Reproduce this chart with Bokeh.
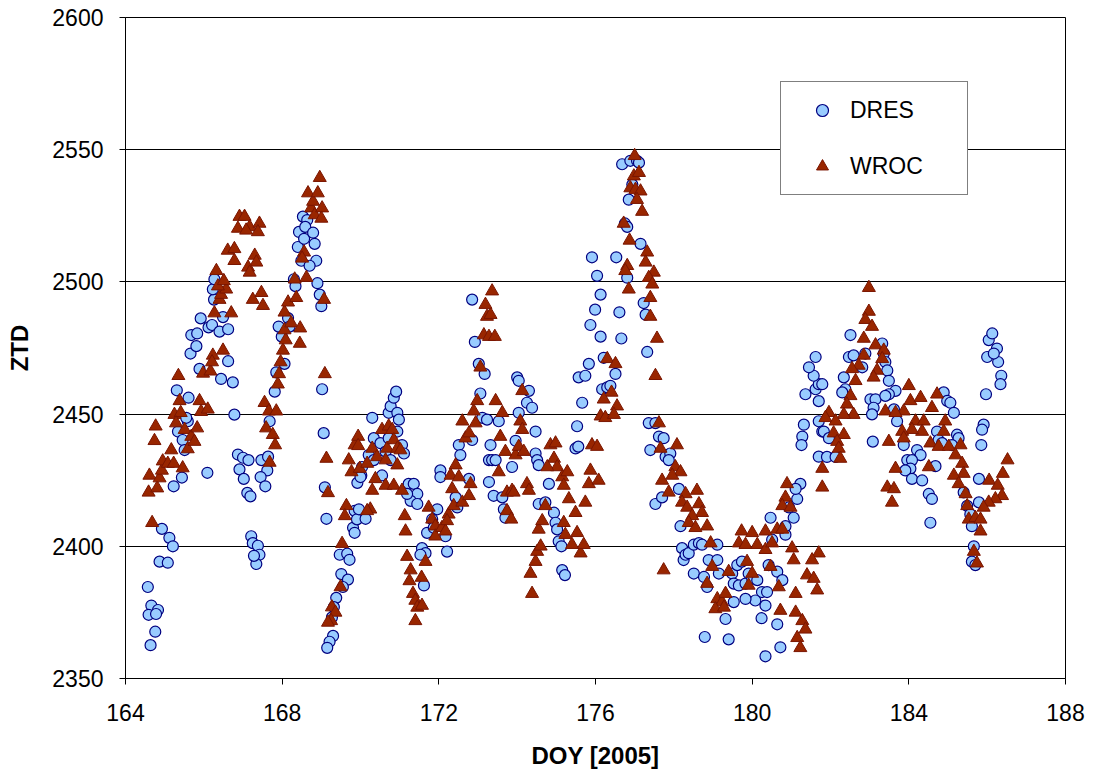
from bokeh.plotting import figure
from bokeh.models import Range1d, Legend, LegendItem
from bokeh.embed import file_html
from bokeh.resources import INLINE

# ---- data ----
dres_doy = [
    164.64, 164.76, 164.57, 164.66, 164.83, 164.59, 164.78, 164.87, 165.08, 164.93, 165.12, 165.21,
    165.23, 165.44, 165.34, 165.46, 165.51, 165.59, 165.55, 165.31, 165.61, 165.66, 165.81, 165.68,
    165.83, 165.92, 165.89, 166.12, 166.21, 166.40, 166.62, 166.49, 166.26, 166.23, 166.27, 166.44,
    166.74, 166.62, 166.78, 166.09, 166.87, 167.00, 167.14, 166.91, 167.02, 167.11, 167.19, 167.21,
    167.25, 167.38, 167.42, 167.34, 167.28, 167.47, 167.64, 167.62, 167.45, 167.57, 167.68, 167.81,
    167.85, 167.91, 167.99, 168.06, 168.15, 168.19, 168.30, 168.34, 168.40, 168.49, 168.43, 168.56,
    168.53, 168.64, 168.59, 168.79, 168.83, 168.87, 168.70, 168.90, 168.96, 169.00, 169.02, 169.06,
    169.09, 169.13, 169.47, 169.66, 169.72, 169.51, 169.68, 169.55, 169.38, 169.32, 169.27, 169.30,
    169.21, 169.15, 169.85, 169.81, 169.85, 169.92, 170.02,
    169.91, 170.13, 169.96, 170.00, 170.30, 170.34, 170.21, 170.04, 170.51, 170.34, 170.55, 170.72,
    170.77, 170.85, 170.91, 170.94, 170.98, 170.94, 171.06, 171.11, 170.72, 170.64, 170.77, 171.23,
    171.36, 171.45, 171.28, 171.45, 171.19, 172.04, 172.04, 171.96, 171.83, 171.70, 171.87, 172.17,
    172.21, 171.57, 171.66, 171.53, 171.62, 172.51, 172.55, 172.47, 172.43, 172.77, 172.85, 172.85,
    172.92, 173.02, 173.17, 173.06, 173.11, 173.23, 173.53, 173.32, 173.28, 173.36, 173.45, 173.28,
    173.40, 173.62, 173.66, 173.70, 173.87, 173.96, 174.00, 174.04, 174.30, 174.25, 174.38, 174.04,
    174.47, 174.47, 174.51, 174.55, 174.81, 174.55, 174.72, 174.94, 174.98, 175.02, 175.06, 175.13,
    175.15, 175.22, 175.53, 175.49, 175.56, 175.66, 175.57, 175.74, 175.83, 175.87, 175.91, 176.04,
    175.99, 176.13,
    176.68, 176.89, 177.06, 177.11, 176.94, 176.85, 176.75, 176.81, 177.15, 176.53, 176.81, 176.61,
    176.13, 176.66, 177.23, 177.28, 177.32, 176.21, 176.51, 176.17, 176.30, 176.38, 177.36, 177.53,
    177.62, 177.74, 177.40, 177.79, 177.91, 177.87, 178.13, 177.53, 177.70, 178.17, 178.21, 178.25,
    178.30, 178.38, 178.51, 178.64, 178.72, 179.11, 178.89, 179.11, 178.51, 178.77, 178.85, 179.15,
    179.32, 179.40, 178.79, 179.49, 179.62, 179.74, 179.53, 179.66, 179.83, 179.91, 180.00, 180.13,
    180.25, 180.38, 180.08, 179.83, 179.53, 180.34, 180.24, 180.34, 180.64, 180.72, 180.42, 180.51,
    180.64, 180.77, 180.47, 180.85, 180.85, 180.94, 181.06, 181.15, 181.23, 181.11, 181.70, 181.79,
    181.32, 181.28, 181.26, 181.70, 181.36, 181.70, 181.62, 181.70, 181.57, 181.45, 181.62, 181.79,
    181.83, 181.96, 181.91, 182.13, 182.51, 182.47, 182.59, 182.89, 182.81, 183.32, 183.36, 183.40,
    183.45, 183.49, 182.34, 182.38, 182.30, 183.02, 183.15, 183.10, 183.06, 183.66, 183.49, 183.40,
    183.62, 183.70, 183.08, 183.87, 183.96, 184.21, 184.30, 184.08, 184.04, 183.91, 184.08, 184.34,
    184.68, 184.51, 184.59, 184.55, 184.89, 184.98, 185.06, 185.15, 184.72, 184.76, 185.23, 185.27,
    185.10, 184.85, 185.40, 185.49, 185.57, 185.61, 185.79, 185.79, 185.66, 185.61, 185.70, 185.91,
    185.87, 185.85, 185.97, 186.00, 186.04, 186.13, 186.25, 186.28, 186.36, 186.34, 186.17,
]
dres_ztd = [
    2362.6, 2367.7, 2384.6, 2377.6, 2375.9, 2374.1, 2374.4, 2394.2, 2393.8, 2406.6, 2403.2, 2400.0,
    2422.7, 2426.0, 2443.4, 2440.2, 2436.4, 2447.3, 2448.6, 2459.0, 2456.2, 2472.9, 2475.7, 2479.9,
    2480.5, 2486.2, 2467.1, 2482.8, 2483.7, 2481.2, 2482.1, 2486.7, 2493.3, 2497.2, 2501.0, 2463.3,
    2462.0, 2470.0, 2449.8, 2427.8, 2434.7, 2433.5, 2432.6, 2429.1, 2425.5, 2420.2, 2418.9, 2403.8,
    2401.2, 2400.2, 2396.8, 2393.3, 2396.4, 2432.6, 2433.9, 2428.7, 2426.2, 2422.7, 2447.3, 2458.5,
    2465.8, 2483.1, 2479.3, 2469.0, 2486.3, 2483.1, 2501.0, 2498.4, 2513.2, 2508.0, 2518.9, 2516.3,
    2524.7, 2523.4, 2520.8, 2518.6, 2514.4, 2508.0, 2506.1, 2499.5, 2495.2, 2490.8, 2459.4, 2442.8,
    2422.3, 2410.4, 2396.8, 2397.2, 2394.9, 2389.5, 2387.4, 2384.6, 2380.5, 2377.0, 2373.1, 2366.1,
    2363.9, 2361.6, 2413.4, 2407.0, 2405.1, 2424.0, 2426.8,
    2410.2, 2410.4, 2414.0, 2426.2, 2448.6, 2440.9, 2434.5, 2430.0, 2439.0, 2432.6, 2426.8, 2450.5,
    2453.0, 2456.2, 2458.5, 2450.5, 2447.9, 2443.4, 2438.3, 2435.1, 2440.9, 2435.8, 2432.6, 2423.6,
    2423.6, 2419.8, 2417.2, 2416.0, 2419.8, 2428.7, 2426.2, 2414.0, 2410.2, 2405.1, 2407.0, 2403.8,
    2398.0, 2399.3, 2397.4, 2396.8, 2385.2, 2438.3, 2434.5, 2414.7, 2418.5, 2425.5, 2440.2, 2493.3,
    2477.3, 2469.0, 2465.2, 2457.8, 2448.6, 2447.9, 2447.3, 2438.3, 2432.6, 2432.6, 2432.6, 2424.3,
    2419.1, 2418.5, 2414.0, 2410.8, 2430.0, 2439.9, 2463.9, 2462.6, 2458.8, 2454.3, 2452.4, 2450.5,
    2443.4, 2435.1, 2432.6, 2430.7, 2423.6, 2416.0, 2416.6, 2412.7, 2408.9, 2406.4, 2401.9, 2400.0,
    2391.0, 2389.1, 2445.4, 2437.0, 2437.7, 2454.3, 2463.9, 2464.5, 2469.0, 2483.7, 2509.3, 2502.3,
    2489.5, 2495.2,
    2544.5, 2545.8, 2545.8, 2545.1, 2536.8, 2531.1, 2522.1, 2520.8, 2514.4, 2509.3, 2501.6, 2488.5,
    2479.3, 2478.6, 2492.0, 2487.6, 2473.5, 2471.3, 2465.2, 2459.4, 2460.1, 2460.7, 2446.6, 2446.6,
    2441.5, 2440.9, 2436.4, 2433.9, 2435.1, 2432.6, 2421.7, 2416.0, 2418.5, 2407.6, 2399.3, 2394.8,
    2396.8, 2397.4, 2400.6, 2401.2, 2400.6, 2400.6, 2394.8, 2394.8, 2389.7, 2388.4, 2384.6, 2389.7,
    2372.5, 2364.8, 2365.7, 2389.7, 2392.9, 2394.2, 2385.9, 2385.2, 2385.9, 2389.7, 2387.8, 2387.2,
    2382.7, 2382.7, 2379.5, 2380.1, 2378.9, 2377.6, 2372.8, 2358.4, 2370.5, 2361.8, 2392.9, 2402.5,
    2390.4, 2387.2, 2410.8, 2404.4, 2407.6, 2414.7, 2410.8, 2417.9, 2423.6, 2421.7, 2433.9, 2443.4,
    2446.0, 2441.5, 2438.3, 2447.3, 2457.5, 2454.9, 2459.4, 2461.3, 2464.5, 2467.7, 2471.6, 2461.3,
    2443.4, 2440.9, 2433.8, 2433.8, 2479.9, 2471.6, 2472.2, 2472.9, 2467.7, 2476.7, 2472.9, 2469.7,
    2466.5, 2462.6, 2463.9, 2459.4, 2458.2, 2455.6, 2455.6, 2452.4, 2449.9, 2458.8, 2457.5, 2456.9,
    2451.8, 2447.3, 2439.6, 2438.3, 2432.6, 2436.4, 2434.5, 2432.6, 2429.4, 2428.7, 2425.5, 2424.9,
    2430.3, 2419.8, 2417.9, 2408.9, 2458.2, 2455.0, 2454.3, 2450.5, 2443.4, 2440.2, 2442.2, 2440.9,
    2438.3, 2439.0, 2420.4, 2415.3, 2412.1, 2407.6, 2416.6, 2425.5, 2400.0, 2394.2, 2392.9, 2446.0,
    2444.1, 2438.3, 2457.5, 2471.6, 2478.0, 2480.5, 2474.8, 2469.7, 2464.5, 2461.3, 2472.9,
]

wroc_doy = [
    164.68, 164.59, 164.81, 164.61, 164.87, 164.93, 164.95, 165.08, 165.17, 165.23, 165.46, 164.74,
    164.77, 165.25, 165.41, 165.38, 165.29, 165.51, 165.68, 165.59, 165.76, 165.83, 165.89, 165.93,
    166.10, 165.35, 165.98, 166.17, 166.23, 166.49, 166.21, 166.27, 166.70, 166.40, 166.44, 166.57,
    166.36, 166.32, 166.51, 166.61, 166.78, 166.78, 166.87, 166.91, 167.04, 167.17, 167.08, 167.42,
    167.38, 167.30, 167.34, 167.13, 167.17, 167.25, 167.47, 167.51, 167.55, 167.66, 167.85, 167.59,
    167.76, 167.82, 167.68, 167.89, 167.92, 167.96, 168.02, 168.09, 168.06, 168.23, 168.46, 168.45,
    168.06, 168.15, 168.36, 168.32, 168.62, 168.56, 168.51, 168.66, 168.74, 168.79, 168.83, 168.96,
    168.91, 169.02, 169.00, 169.07, 169.09, 169.13, 169.17, 169.64, 169.60, 169.53, 169.49, 169.27,
    169.36, 169.25, 169.17, 169.70, 169.77, 169.85, 169.94, 169.94, 169.98,
    170.17, 170.30, 170.38, 170.42, 170.55, 170.64, 170.68, 170.72, 170.81, 170.85, 170.94, 171.02,
    170.94, 170.25, 170.17, 170.30, 170.64, 170.85, 171.06, 171.13, 171.15, 171.19, 171.28, 171.25,
    171.34, 171.40, 171.45, 171.40, 171.56, 171.57, 171.66, 171.74, 171.83, 171.91, 171.91, 172.08,
    172.17, 172.25, 172.21, 172.38, 172.34, 172.43, 172.30, 172.51, 172.60, 172.77, 172.81, 172.68,
    172.60, 172.77, 172.89, 172.94, 172.98, 173.06, 173.15, 173.28, 173.43, 173.23, 173.32, 173.36,
    173.19, 173.45, 173.57, 173.62, 173.70, 173.53, 173.74, 173.87, 173.74, 173.85, 173.91, 173.96,
    174.04, 174.17, 174.08, 174.13, 174.13, 174.25, 174.30, 174.38, 174.34, 174.47, 174.51, 174.60,
    174.55, 174.64, 174.72, 174.85, 174.98, 174.94, 175.02, 174.77, 175.15, 175.19, 175.28, 175.32,
    175.19, 175.23, 175.40, 175.49, 175.53, 175.62, 175.70, 175.74, 175.83, 175.87, 175.91,
    177.00, 176.98, 177.11, 176.89, 177.02, 177.15, 177.06, 177.19, 176.72, 176.87, 177.32, 177.28,
    176.81, 176.76, 177.49, 177.36, 177.45, 176.85, 177.40, 177.40, 177.57, 177.53, 176.30, 176.51,
    176.41, 176.21, 176.55, 176.13, 176.25, 176.47, 176.04, 176.08, 177.62, 177.66, 178.08, 178.04,
    178.17, 177.96, 177.70, 177.87, 178.30, 178.59, 178.21, 178.64, 178.34, 178.72, 178.47, 178.38,
    178.85, 178.55, 177.74, 178.94, 178.98, 178.85, 179.40, 179.11, 179.23, 179.32, 179.06, 179.28,
    179.73, 180.00, 179.66, 179.83, 180.34, 180.13, 180.34, 180.51, 180.64, 180.77, 179.87, 180.00,
    179.91, 180.47, 180.68, 180.89, 180.85, 180.77, 180.98, 181.02, 181.06, 181.11, 180.72, 181.11,
    181.28, 181.36, 181.15, 181.23, 181.70, 181.53, 181.40, 181.57, 181.66, 181.79, 181.79,
    182.98, 182.98, 182.89, 183.06, 182.85, 183.15, 183.36, 183.32, 182.85, 182.72, 183.19, 182.55,
    183.10, 182.64, 182.51, 182.42, 182.59, 182.34, 181.96, 181.87, 182.13, 182.08, 182.34, 182.17,
    182.21, 182.25, 184.00, 184.04, 183.87, 184.30, 184.72, 184.59, 183.40, 183.66, 184.17, 184.38,
    184.34, 184.08, 183.83, 183.87, 183.49, 184.93, 184.89, 184.55, 184.76, 185.02, 185.32, 185.19,
    183.66, 183.45, 183.62, 183.57, 184.51, 185.36, 185.40, 185.15, 185.27, 185.45, 185.49, 185.53,
    185.70, 185.83, 185.83, 185.66, 185.74, 186.05, 186.27, 186.40, 186.52, 186.38, 186.21, 186.04,
    185.91,
]
wroc_ztd = [
    2408.9, 2420.4, 2422.0, 2426.8, 2425.8, 2428.7, 2432.2, 2431.3, 2436.4, 2431.3, 2429.6, 2439.9,
    2445.4, 2449.8, 2450.5, 2455.0, 2446.6, 2444.1, 2441.5, 2436.8, 2439.6, 2444.7, 2455.0, 2450.9,
    2451.8, 2464.5, 2465.4, 2466.2, 2472.2, 2474.1, 2469.7, 2488.2, 2488.2, 2493.3, 2495.2, 2497.2,
    2498.4, 2504.2, 2500.4, 2511.9, 2512.5, 2508.0, 2520.2, 2524.7, 2524.7, 2520.8, 2519.5, 2522.1,
    2518.9, 2510.0, 2507.4, 2505.5, 2503.6, 2493.3, 2495.9, 2491.0, 2454.3, 2451.1, 2451.1, 2444.7,
    2442.2, 2438.3, 2431.7, 2461.3, 2465.2, 2469.7, 2474.1, 2478.0, 2481.8, 2484.4, 2482.5, 2476.7,
    2488.5, 2492.3, 2494.0, 2501.0, 2501.6, 2511.2, 2508.9, 2533.6, 2527.9, 2530.4, 2525.3, 2539.4,
    2533.6, 2527.9, 2524.0, 2493.3, 2465.2, 2433.2, 2420.2, 2415.3, 2411.5, 2401.0, 2384.6, 2377.0,
    2375.0, 2371.8, 2371.2, 2432.6, 2428.1, 2438.3, 2441.5, 2438.0, 2429.4,
    2431.3, 2437.0, 2425.5, 2433.8, 2444.1, 2432.6, 2437.0, 2445.4, 2444.1, 2440.2, 2437.0, 2436.4,
    2430.7, 2414.0, 2413.4, 2421.1, 2423.0, 2423.0, 2421.1, 2411.5, 2405.7, 2396.1, 2391.0, 2386.9,
    2382.1, 2379.5, 2376.9, 2371.8, 2388.2, 2377.6, 2394.2, 2414.7, 2410.2, 2407.6, 2403.8, 2407.0,
    2405.7, 2412.1, 2409.6, 2415.3, 2421.7, 2430.7, 2426.8, 2426.2, 2416.6, 2419.1, 2423.6, 2440.9,
    2447.3, 2442.8, 2451.1, 2446.6, 2455.0, 2467.7, 2479.9, 2479.3, 2479.3, 2486.9, 2487.6, 2496.5,
    2491.4, 2455.0, 2441.5, 2450.5, 2435.8, 2428.1, 2420.4, 2421.1, 2413.4, 2410.2, 2420.4, 2434.5,
    2437.7, 2435.8, 2447.3, 2444.1, 2458.8, 2423.6, 2421.1, 2382.1, 2389.7, 2394.2, 2398.0, 2400.0,
    2406.4, 2409.6, 2415.3, 2438.3, 2439.0, 2433.2, 2430.0, 2430.0, 2426.2, 2423.0, 2428.1, 2417.9,
    2408.9, 2404.4, 2400.6, 2412.7, 2405.1, 2397.4, 2400.6, 2416.6, 2423.6, 2428.7, 2438.3,
    2547.7, 2540.0, 2541.3, 2535.5, 2534.9, 2534.3, 2531.1, 2526.6, 2522.1, 2515.7, 2511.2, 2507.4,
    2506.1, 2504.2, 2503.6, 2501.6, 2499.1, 2497.2, 2494.0, 2486.9, 2478.6, 2464.5, 2470.9, 2469.0,
    2458.2, 2455.6, 2453.0, 2449.2, 2448.6, 2449.8, 2437.7, 2424.9, 2446.6, 2437.0, 2438.3, 2430.0,
    2428.1, 2426.8, 2424.9, 2420.4, 2419.8, 2421.1, 2416.6, 2416.0, 2414.7, 2412.7, 2411.5, 2408.9,
    2407.6, 2407.0, 2391.0, 2401.2, 2392.3, 2385.9, 2390.4, 2380.1, 2378.9, 2382.1, 2376.3, 2376.9,
    2405.7, 2405.1, 2401.2, 2400.6, 2405.7, 2400.6, 2398.7, 2401.2, 2406.4, 2406.4, 2394.2, 2389.7,
    2385.2, 2392.3, 2384.6, 2423.6, 2418.5, 2415.3, 2414.7, 2399.3, 2394.8, 2382.1, 2375.7, 2375.0,
    2371.8, 2368.6, 2365.4, 2361.6, 2397.4, 2394.8, 2389.1, 2387.8, 2383.4, 2429.4, 2422.3,
    2497.8, 2488.8, 2485.7, 2483.1, 2478.6, 2476.1, 2474.1, 2470.9, 2472.2, 2468.4, 2466.5, 2467.1,
    2463.9, 2462.6, 2456.9, 2453.7, 2449.8, 2449.8, 2450.5, 2448.6, 2447.3, 2442.8, 2442.2, 2439.6,
    2437.0, 2433.2, 2460.7, 2455.0, 2451.1, 2456.2, 2457.5, 2452.4, 2451.1, 2450.5, 2447.3, 2447.3,
    2443.4, 2444.1, 2443.4, 2440.9, 2439.6, 2447.3, 2443.4, 2439.0, 2437.7, 2437.7, 2438.3, 2434.5,
    2429.4, 2422.3, 2421.7, 2416.6, 2430.0, 2431.3, 2427.5, 2426.8, 2423.6, 2419.8, 2415.3, 2410.2,
    2410.8, 2410.2, 2405.7, 2398.0, 2393.6, 2424.9, 2423.0, 2427.5, 2432.6, 2419.1, 2417.9, 2416.6,
    2414.7,
]

x_ticks = [164, 168, 172, 176, 180, 184, 188]
y_ticks = [2350, 2400, 2450, 2500, 2550, 2600]
x_title = "DOY [2005]"
y_title = "ZTD"
series_names = ["DRES", "WROC"]

FONT = "Liberation Sans"

p = figure(width=1094, height=780, output_backend="svg", toolbar_location=None,
           x_range=Range1d(164, 188), y_range=Range1d(2350, 2600),
           min_border_left=125, min_border_right=29, min_border_top=17,
           min_border_bottom=102, background_fill_color="white",
           border_fill_color="white")

p.outline_line_color = "black"
p.outline_line_width = 1
p.xgrid.visible = False
p.ygrid.ticker = y_ticks
p.ygrid.grid_line_color = "black"
p.ygrid.grid_line_width = 1

p.xaxis.ticker = x_ticks
p.yaxis.ticker = y_ticks
for ax in (p.xaxis, p.yaxis):
    ax.axis_line_color = "black"
    ax.major_tick_line_color = "black"
    ax.major_tick_in = 0
    ax.major_tick_out = 6
    ax.minor_tick_in = 0
    ax.minor_tick_out = 0
    ax.major_label_text_font = FONT
    ax.major_label_text_font_size = "23px"
    ax.major_label_text_color = "black"
    ax.axis_label_text_font = FONT
    ax.axis_label_text_font_size = "24px"
    ax.axis_label_text_font_style = "bold"
    ax.axis_label_text_color = "black"

p.xaxis.axis_label = x_title
p.yaxis.axis_label = y_title
p.xaxis.major_label_standoff = 19
p.xaxis.axis_label_standoff = 18
p.yaxis.major_label_standoff = 16
p.yaxis.axis_label_standoff = 16

r1 = p.scatter(dres_doy, dres_ztd, marker="circle", size=11,
               fill_color="#99CCFF", line_color="#000080", line_width=1.2)
r2 = p.scatter(wroc_doy, wroc_ztd, marker="triangle", size=13,
               fill_color="#992600", line_color="#7A1500", line_width=1)

legend = Legend(items=[LegendItem(label=series_names[0], renderers=[r1]),
                       LegendItem(label=series_names[1], renderers=[r2])],
                location=(655, 483), orientation="vertical",
                padding=13, spacing=26, margin=0,
                glyph_width=56, glyph_height=30, label_standoff=0,
                label_width=104, label_height=30,
                label_text_font=FONT, label_text_font_size="23px",
                label_text_color="black",
                border_line_color="black", border_line_width=1,
                background_fill_color="white", background_fill_alpha=1)
p.add_layout(legend)

open("out.html", "w").write(file_html(p, INLINE))
